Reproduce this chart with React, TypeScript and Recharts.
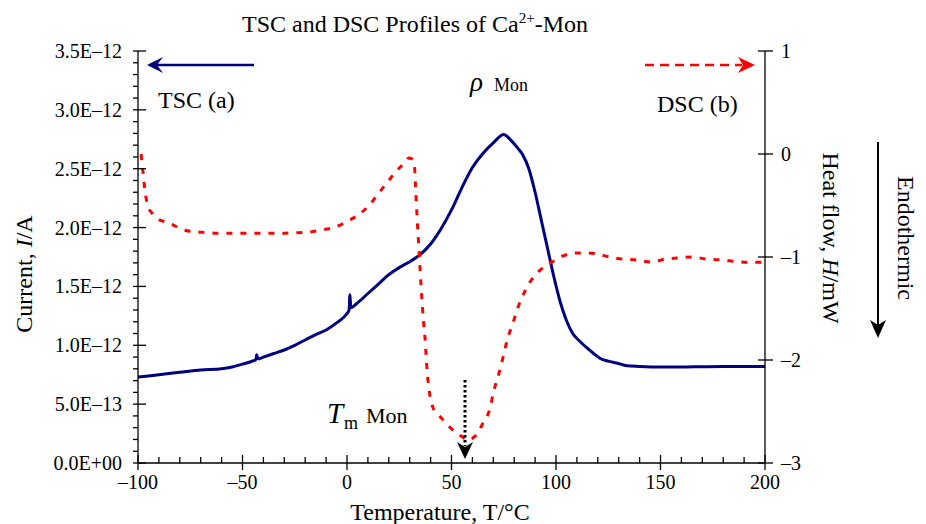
import React from "react";
import { ComposedChart, Line, XAxis, YAxis } from "recharts";

const FONT = '"Liberation Serif", "Times New Roman", serif';

// TSC curve (a): temperature in °C, current in units of 1E-12 A
const tscTemp = [
  -100, -90, -80, -70, -60, -55, -50, -45, -43.6, -43.2, -42.6, -40, -35, -30, -25, -20, -15, -10, -5, 0, 1.0,
  1.4, 1.8, 5, 10, 15, 20, 25, 30, 35, 40, 45, 50, 55, 60, 65, 70, 75, 78, 81, 84, 87, 90, 93, 96, 99, 102,
  105, 108, 111, 114, 118, 121, 125, 129, 134, 140, 150, 160, 170, 180, 190, 200,
];
const tscCurrent = [
  0.73, 0.75, 0.77, 0.79, 0.8, 0.815, 0.84, 0.867, 0.88, 0.92, 0.885, 0.9, 0.93, 0.96, 1.0, 1.045, 1.09, 1.13,
  1.19, 1.27, 1.3, 1.43, 1.32, 1.36, 1.44, 1.52, 1.6, 1.66, 1.71, 1.77, 1.86, 1.99, 2.15, 2.34, 2.51, 2.63, 2.72,
  2.79, 2.75, 2.69, 2.62, 2.5, 2.3, 2.06, 1.82, 1.58, 1.37, 1.21, 1.1, 1.04, 0.99, 0.93, 0.89, 0.865, 0.85,
  0.826, 0.82, 0.815, 0.815, 0.818, 0.82, 0.82, 0.82,
];

// DSC curve (b): temperature in °C, heat flow in mW
const dscTemp = [
  -98.5, -97.5, -96.7, -95.2, -92.5, -90.4, -87, -84.2, -80, -77.5, -73, -69.4, -60, -50, -40, -32, -25, -19,
  -12.9, -5.7, 0.5, 6.2, 10.5, 14.8, 19.1, 23.4, 27.8, 29.5, 31.2, 32.2, 32.7, 33.5, 34.5, 35.5, 36.5, 37.3,
  38.3, 39.5, 41.1, 43.5, 45.5, 48, 50.7, 53, 55.5, 57.5, 60, 62.2, 65.1, 68.4, 70, 72.7, 74.6, 76.6, 79.4,
  81.8, 84.7, 87.6, 90, 92.3, 95, 98, 103.3, 110.5, 115, 119.6, 125.8, 131.6, 139.2, 145.9, 152.2, 158.4, 165,
  172, 180, 190, 200,
];
const dscHeat = [
  0.0, -0.2, -0.35, -0.51, -0.59, -0.63, -0.66, -0.68, -0.72, -0.74, -0.755, -0.76, -0.77, -0.77, -0.77, -0.77,
  -0.765, -0.76, -0.74, -0.71, -0.65, -0.58, -0.5, -0.39, -0.28, -0.17, -0.08, -0.04, -0.05, -0.1, -0.28, -0.6,
  -0.95, -1.3, -1.6, -1.78, -2.1, -2.32, -2.46, -2.53, -2.57, -2.63, -2.68, -2.72, -2.75, -2.78, -2.76, -2.72,
  -2.61, -2.47, -2.32, -2.13, -1.98, -1.81, -1.64, -1.49, -1.35, -1.24, -1.18, -1.13, -1.08, -1.05, -0.99, -0.96,
  -0.96, -0.97, -1.0, -1.02, -1.03, -1.05, -1.02, -1.01, -1.0, -1.02, -1.03, -1.05, -1.05,
];

const xMajor = [-100, -50, 0, 50, 100, 150, 200];
const xTickLabels = ["–100", "–50", "0", "50", "100", "150", "200"];
const leftMajorLabels = ["0.0E+00", "5.0E–13", "1.0E–12", "1.5E–12", "2.0E–12", "2.5E–12", "3.0E–12", "3.5E–12"];
const rightTicks = [-3, -2, -1, 0, 1];
const rightTickLabels = ["–3", "–2", "–1", "0", "1"];

const xTicks = Array.from({ length: 31 }, (_, i) => -100 + i * 10);
const leftTicks = Array.from({ length: 36 }, (_, i) => i / 10);

const tscData = tscTemp.map((t, i) => ({ temp: t, current: tscCurrent[i] }));
const dscData = dscTemp.map((t, i) => ({ temp: t, heat: dscHeat[i] }));

const textStyle = { fontFamily: FONT, fill: "#000" };

const XTick = (props: any) => {
  const { x, y, payload } = props;
  const v = payload.value;
  const idx = xMajor.indexOf(v);
  const major = idx >= 0;
  return (
    <g>
      <line x1={x} x2={x} y1={major ? y - 8 : y - 6} y2={major ? y + 7 : y} stroke="#000" strokeWidth={1.3} />
      {major && (
        <text x={x} y={y + 26} textAnchor="middle" fontSize={20} {...textStyle}>
          {xTickLabels[idx]}
        </text>
      )}
    </g>
  );
};

const LeftTick = (props: any) => {
  const { x, y, payload } = props;
  const n = Math.round(payload.value * 10);
  const major = n % 5 === 0;
  return (
    <g>
      <line x1={x - 5} x2={major ? x + 8 : x} y1={y} y2={y} stroke="#000" strokeWidth={1.3} />
      {major && (
        <text x={x - 16} y={y + 7} textAnchor="end" fontSize={20} {...textStyle}>
          {leftMajorLabels[n / 5]}
        </text>
      )}
    </g>
  );
};

const RightTick = (props: any) => {
  const { x, y, payload } = props;
  const idx = rightTicks.indexOf(payload.value);
  return (
    <g>
      <line x1={x - 7} x2={x + 8} y1={y} y2={y} stroke="#000" strokeWidth={1.3} />
      <text x={x + 16} y={y + 7} textAnchor="start" fontSize={20} {...textStyle}>
        {rightTickLabels[idx]}
      </text>
    </g>
  );
};

const Overlay = () => (
  <svg width={926} height={524} style={{ position: "absolute", left: 0, top: 0, pointerEvents: "none" }}>
    {/* title */}
    <text x={415} y={32} textAnchor="middle" fontSize={24} {...textStyle}>
      TSC and DSC Profiles of Ca
      <tspan fontSize={15} dy={-9}>2+</tspan>
      <tspan dy={9}>-Mon</tspan>
    </text>

    {/* axis titles */}
    <text x={440} y={520} textAnchor="middle" fontSize={24} {...textStyle}>
      Temperature, T/°C
    </text>
    <text transform="translate(32,274) rotate(-90)" textAnchor="middle" fontSize={24} {...textStyle}>
      Current, <tspan fontStyle="italic">I</tspan>/A
    </text>
    <text transform="translate(823,238) rotate(90)" textAnchor="middle" fontSize={24} {...textStyle}>
      Heat flow, <tspan fontStyle="italic">H</tspan>/mW
    </text>
    <text transform="translate(898,238) rotate(90)" textAnchor="middle" fontSize={24} {...textStyle}>
      Endothermic
    </text>
    <line x1={878} x2={878} y1={142} y2={326} stroke="#000" strokeWidth={2} />
    <path d="M878,338 L870,320 L878,325 L886,320 Z" fill="#000" />

    {/* series keys */}
    <line x1={254} x2={156} y1={65} y2={65} stroke="#000080" strokeWidth={2.5} />
    <path d="M147,65 L163,57 L157,65 L163,73 Z" fill="#000080" />
    <text x={158} y={108} fontSize={24} {...textStyle}>
      TSC (a)
    </text>
    <line x1={645} x2={742} y1={65} y2={65} stroke="#ff0000" strokeWidth={2.5} strokeDasharray="9 6" />
    <path d="M755,65 L738,57 L743,65 L738,73 Z" fill="#ff0000" />
    <text x={657} y={112} fontSize={24} {...textStyle}>
      DSC (b)
    </text>

    {/* peak annotations */}
    <text x={470} y={91} fontSize={27} fontStyle="italic" {...textStyle}>
      ρ
    </text>
    <text x={494} y={91} fontSize={18} {...textStyle}>
      Mon
    </text>
    <text x={327} y={423} fontSize={29} fontStyle="italic" {...textStyle}>
      T
    </text>
    <text x={344} y={429} fontSize={18} {...textStyle}>
      m
    </text>
    <text x={366} y={423} fontSize={22} {...textStyle}>
      Mon
    </text>
    <line x1={465} x2={465} y1={380} y2={446} stroke="#000" strokeWidth={3} strokeDasharray="2.5 2.5" />
    <path d="M465,459 L457,442 L465,447 L473,442 Z" fill="#000" />
  </svg>
);

export default function App() {
  return (
    <div style={{ position: "absolute", left: 0, top: 0, width: 926, height: 524, background: "#fff" }}>
      <ComposedChart width={926} height={524} margin={{ top: 51, right: 101, bottom: 31, left: 48 }}>
        <XAxis
          dataKey="temp"
          type="number"
          domain={[-100, 200]}
          ticks={xTicks}
          interval={0}
          tick={<XTick />}
          tickLine={false}
          tickSize={0}
          tickMargin={0}
          height={30}
          axisLine={{ stroke: "#000", strokeWidth: 1.3 }}
          allowDataOverflow
        />
        <YAxis
          yAxisId="left"
          type="number"
          domain={[0, 3.5]}
          ticks={leftTicks}
          interval={0}
          tick={<LeftTick />}
          tickLine={false}
          tickSize={0}
          tickMargin={0}
          width={90}
          axisLine={{ stroke: "#000", strokeWidth: 1.3 }}
          allowDataOverflow
        />
        <YAxis
          yAxisId="right"
          orientation="right"
          type="number"
          domain={[-3, 1]}
          ticks={rightTicks}
          interval={0}
          tick={<RightTick />}
          tickLine={false}
          tickSize={0}
          tickMargin={0}
          width={60}
          axisLine={{ stroke: "#000", strokeWidth: 1.3 }}
          allowDataOverflow
        />
        <Line
          yAxisId="left"
          data={tscData}
          dataKey="current"
          type="monotone"
          stroke="#000080"
          strokeWidth={3}
          dot={false}
          activeDot={false}
          isAnimationActive={false}
        />
        <Line
          yAxisId="right"
          data={dscData}
          dataKey="heat"
          type="monotone"
          stroke="#ff0000"
          strokeWidth={3}
          strokeDasharray="6 8"
          dot={false}
          activeDot={false}
          isAnimationActive={false}
        />
      </ComposedChart>
      <Overlay />
    </div>
  );
}
